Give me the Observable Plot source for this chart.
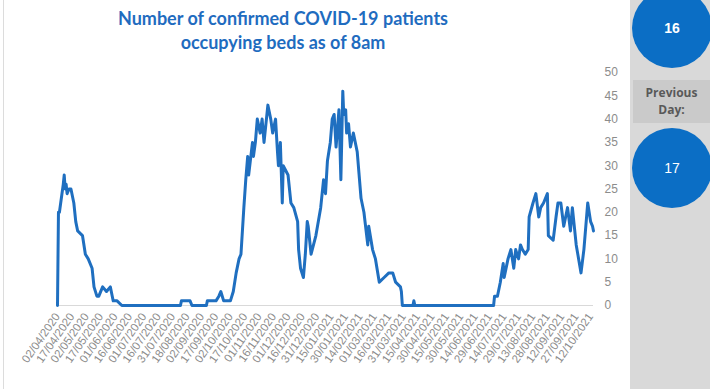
<!DOCTYPE html>
<html>
<head>
<meta charset="utf-8">
<script src="https://cdn.jsdelivr.net/npm/d3@7"></script>
<script src="https://cdn.jsdelivr.net/npm/@observablehq/plot@0.6"></script>
<style>
  html, body { margin: 0; padding: 0; background: #fff; }
  #wrap { position: relative; width: 710px; height: 389px; overflow: hidden; background: #fff; }
  #leftline { position: absolute; left: 3px; top: 0; width: 1px; height: 389px; background: #dcdcdc; }
  #title { position: absolute; left: 0; top: 6px; width: 566px; text-align: center;
    font: bold 18px/24px Lato, "Liberation Sans", sans-serif; color: #1f6cbf; }
  #chart { position: absolute; left: 0; top: 0; }
  #panel { position: absolute; left: 630px; top: 0; width: 80px; height: 389px; background: #d9d9d9; }
  .circle { position: absolute; width: 80px; height: 80px; border-radius: 50%; background: #0b6ec5;
    color: #fff; display: flex; align-items: center; justify-content: center;
    font: bold 14px "Liberation Sans", Arial, sans-serif; }
  #prevbox { position: absolute; left: 633px; top: 80px; width: 77px; height: 43px; background: #cacaca;
    color: #595959; text-align: center; font: bold 12px/17px "Open Sans", sans-serif; padding-top: 4px; box-sizing: border-box; }
</style>
</head>
<body>
<div id="wrap">
  <div id="leftline"></div>
  <div id="chart"></div>
  <div id="title">Number of confirmed COVID-19 patients<br>occupying beds as of 8am</div>
  <div id="panel"></div>
  <div class="circle" id="c1" style="left:632px; top:-12px;"></div>
  <div id="prevbox">Previous<br>Day:</div>
  <div class="circle" id="c2" style="left:632px; top:128px; font-weight:normal;"></div>
</div>
<script>
// Day index (category position, 0 = 02/04/2020) and patients in beds
const day = [0,1,2,4,6,7,8,9,10,12,14,17,19,21,26,29,32,36,38,41,43,47,51,55,57,58,62,67,128,129,138,140,155,156,163,165,168,170,173,177,180,183,186,189,191,194,196,198,199,203,204,206,208,211,213,215,219,222,224,227,229,230,232,234,235,240,243,246,250,251,253,256,258,260,261,264,269,274,277,279,281,284,286,288,290,293,295,297,298,300,301,303,305,308,312,316,319,323,324,328,331,335,340,345,349,352,357,358,359,370,371,372,454,455,458,461,464,465,469,472,475,477,480,482,484,487,490,491,495,498,501,503,506,510,511,516,519,521,524,527,531,534,536,540,545,548,552,555,557,558];
const patients = [0,20,20,23,26,28,25,26,24,25,25,22,18,16,15,11,10,8,4,2,2,4,3,4,2,1,1,0,0,1,1,0,0,1,1,1,2,3,1,1,1,3,7,10,11,21,27,32,28,35,32,35,40,37,40,35,43,40,37,40,33,30,35,22,30,28,22,21,18,12,8,6,11,18,17,11,15,21,27,24,31,35,40,41,34,42,27,46,41,42,37,39,34,37,33,23,20,13,17,12,10,5,6,7,7,5,4,3,0,0,1,0,0,2,2,5,9,6,10,12,8,12,10,13,12,11,12,19,22,24,19,21,22,24,15,14,19,22,22,17,21,16,21,13,7,12,22,18,17,16];

const tickLabels = ["02/04/2020","17/04/2020","02/05/2020","17/05/2020","01/06/2020","16/06/2020","01/07/2020","16/07/2020","31/07/2020","18/08/2020","02/09/2020","17/09/2020","02/10/2020","17/10/2020","01/11/2020","16/11/2020","01/12/2020","16/12/2020","31/12/2020","15/01/2021","30/01/2021","14/02/2021","01/03/2021","16/03/2021","31/03/2021","15/04/2021","30/04/2021","15/05/2021","30/05/2021","14/06/2021","29/06/2021","14/07/2021","29/07/2021","13/08/2021","28/08/2021","12/09/2021","27/09/2021","12/10/2021"];
const tickStep = 15;
const yTicks = [0,5,10,15,20,25,30,35,40,45,50];

const currentValue = 16;
const previousValue = 17;

const data = day.map((d, i) => ({day: d, patients: patients[i]}));
const tickDays = tickLabels.map((_, i) => i * tickStep);

const chart = Plot.plot({
  width: 630,
  height: 389,
  marginLeft: 57,
  marginRight: 37,
  marginTop: 72,
  marginBottom: 84,
  style: {background: "transparent", fontFamily: "'Liberation Sans', Arial, sans-serif"},
  x: {domain: [0, 558], axis: null},
  y: {domain: [0, 50], axis: null},
  marks: [
    Plot.ruleY([0], {stroke: "#d9d9d9", strokeWidth: 1}),
    Plot.line(data, {x: "day", y: "patients", stroke: "#1f6fc0", strokeWidth: 3, strokeLinejoin: "round"}),
    Plot.axisY({anchor: "right", ticks: yTicks, tickSize: 0, tickPadding: 11, fontSize: 12, color: "#8c8c8c", label: null}),
    Plot.axisX({anchor: "bottom", ticks: tickDays, tickFormat: d => tickLabels[Math.round(d / tickStep)],
      tickRotate: -55, tickSize: 0, tickPadding: 9, fontSize: 11.5, color: "#8c8c8c", label: null})
  ]
});
document.getElementById("chart").appendChild(chart);
document.getElementById("c1").textContent = currentValue;
document.getElementById("c2").textContent = previousValue;
</script>
</body>
</html>
